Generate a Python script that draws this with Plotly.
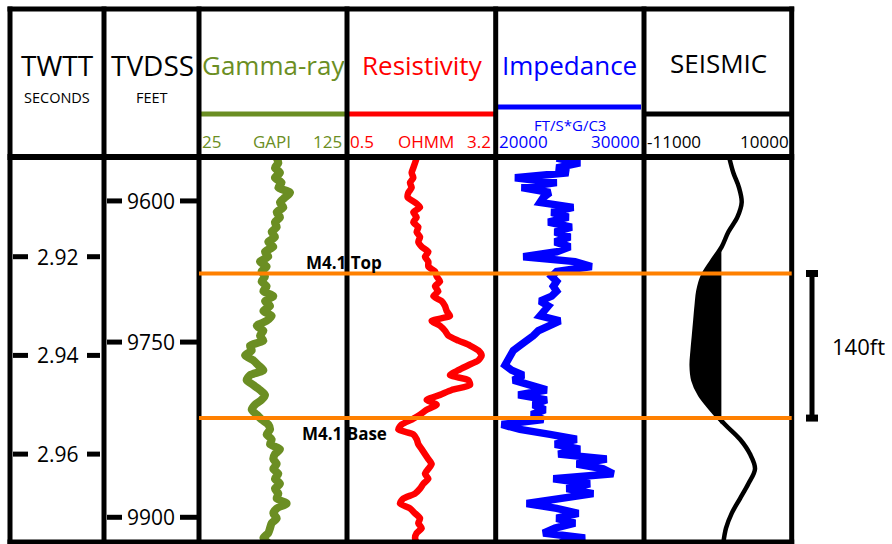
import numpy as np
import plotly.graph_objects as go

W, H = 892, 544

# ---------------- data ----------------
# log samples along two-way time (s), 1 ms sampling
twtt = np.round(np.arange(2.900, 2.9785, 0.001), 3)

gamma_ray = [77.5, 78.6, 76.3, 79.7, 76.3, 80.8, 78.6, 86.5, 83.1, 79.7,
             82.0, 77.5, 79.7, 76.3, 77.5, 74.1, 76.3, 71.8, 75.2, 69.6,
             71.8, 66.2, 70.7, 67.3, 69.6, 67.3, 70.7, 68.5, 75.2, 69.6,
             73.0, 68.5, 74.1, 70.7, 64.0, 68.5, 66.2, 68.5, 59.5, 60.6,
             56.1, 61.7, 65.1, 68.5, 59.5, 57.2, 61.7, 66.2, 69.6, 67.3,
             62.8, 60.6, 64.0, 67.3, 71.8, 73.0, 70.7, 74.1, 73.0, 79.7,
             76.3, 75.2, 77.5, 75.2, 78.6, 76.3, 79.7, 76.3, 78.6, 77.5,
             84.2, 77.5, 75.2, 77.5, 74.1, 73.0, 71.8, 68.5, 71.8]

resistivity = [1.765, 1.735, 1.704, 1.674, 1.704, 1.644, 1.674, 1.614, 1.602, 1.735,
               1.826, 1.704, 1.765, 1.704, 1.795, 1.765, 1.826, 1.795, 1.856, 1.977,
               1.916, 1.977, 1.977, 2.098, 2.128, 2.189, 2.098, 2.158, 2.068, 2.219,
               2.279, 2.310, 2.370, 2.037, 2.189, 2.279, 2.340, 2.522, 2.734, 2.885,
               2.945, 2.885, 2.703, 2.522, 2.370, 2.703, 2.734, 2.400, 2.189, 1.947,
               2.128, 1.947, 1.826, 1.674, 1.493, 1.432, 1.704, 1.765, 1.795, 1.856,
               1.916, 1.977, 2.037, 1.977, 1.916, 1.977, 1.886, 1.826, 1.735, 1.523,
               1.462, 1.644, 1.735, 1.826, 1.795, 1.856, 1.765, 1.735, 1.765]

impedance = [24110, 25683, 24110, 24896, 21301, 24110, 21751, 23661, 23211, 22987,
             25234, 23773, 24896, 23548, 25121, 23998, 25009, 23998, 25009, 24110,
             21863, 25346, 26469, 24110, 23773, 24110, 23885, 24110, 23773, 22987,
             23548, 23211, 22987, 24335, 23548, 22874, 22537, 21975, 21638, 21189,
             20964, 20852, 20627, 21077, 21863, 21189, 22537, 23436, 21526, 23436,
             22537, 23323, 22425, 23211, 20402, 21638, 23661, 25458, 23998, 25683,
             24222, 27481, 25458, 27256, 27930, 23885, 26357, 24784, 26582, 24110,
             22088, 24110, 25571, 24110, 25346, 23998, 23211, 26020, 24335]

seis_twtt = [2.900, 2.903, 2.906, 2.909, 2.912, 2.915, 2.918, 2.921, 2.924,
             2.927, 2.930, 2.933, 2.936, 2.939, 2.942, 2.945, 2.948, 2.951,
             2.954, 2.957, 2.960, 2.963, 2.966, 2.969, 2.972, 2.975, 2.978]
seismic = [1134, 1703, 2509, 2888, 2272, 992, 43, -1378, -2658, -3274,
           -3511, -3700, -3890, -4080, -4222, -3985, -3037, -1378, 518, 2651,
           4073, 4784, 3836, 2651, 1466, 660, 281]

# axis ticks
twtt_ticks = [2.92, 2.94, 2.96]
twtt_labels = ["2.92", "2.94", "2.96"]
tvdss_ticks_twtt = [2.9087, 2.9373, 2.9728]
tvdss_labels = ["9600", "9750", "9900"]

# horizons
horizon_names = ["M4.1 Top", "M4.1 Base"]
horizon_twtt = [2.9234, 2.9527]
thickness_label = "140ft"

# track ranges
gr_range = [25, 125]
res_range = [0.5, 3.2]
imp_range = [20000, 30000]
seis_range = [-11000, 10000]

GREEN = "#6b8e23"
RED = "#ff0000"
BLUE = "#0000ff"
ORANGE = "#ff8000"
FONT = "Open Sans"

def px(x):
    return x / W

def py(y):
    return 1 - y / H

# column boundaries (pixels)
XL, XT, XD, XG, XR, XI, XS = 10, 104, 199, 347, 495.7, 644, 791.7
Y_TOP, Y_HDR, Y_BOT = 9, 157, 542

fig = go.Figure()

fig.add_trace(go.Scatter(x=gamma_ray, y=twtt, mode="lines", xaxis="x", yaxis="y",
                         line=dict(color=GREEN, width=8, shape="spline", smoothing=0.7)))
fig.add_trace(go.Scatter(x=resistivity, y=twtt, mode="lines", xaxis="x2", yaxis="y",
                         line=dict(color=RED, width=6.5, shape="spline", smoothing=0.6)))
fig.add_trace(go.Scatter(x=impedance, y=twtt, mode="lines", xaxis="x3", yaxis="y",
                         line=dict(color=BLUE, width=7.5)))
seis_neg = np.minimum(np.array(seismic, dtype=float), 0)
fig.add_trace(go.Scatter(x=seis_neg, y=seis_twtt, mode="lines", xaxis="x4", yaxis="y",
                         fill="tozerox", fillcolor="black", line=dict(color="black", width=0)))
fig.add_trace(go.Scatter(x=seismic, y=seis_twtt, mode="lines", xaxis="x4", yaxis="y",
                         line=dict(color="black", width=4.5, shape="spline")))

ydom = [1 - 543 / H, 1 - 157 / H]
yr = [2.97801, 2.89980]

def xax(d0, d1, r):
    return dict(domain=[px(d0), px(d1)], range=r, visible=False, anchor="y",
                fixedrange=True)

shapes = []
def pline(x0, y0, x1, y1, color="black", width=5):
    shapes.append(dict(type="line", xref="paper", yref="paper",
                       x0=px(x0), y0=py(y0), x1=px(x1), y1=py(y1),
                       line=dict(color=color, width=width)))

# colored header scale lines
pline(XD, 114, XG, 114, GREEN, 5)
pline(XG, 114, XR, 114, RED, 5)
pline(XR, 107, XI - 3, 107, BLUE, 5)

# frame
for x in [XL, XT, XD, XG, XR, XI, XS]:
    pline(x, Y_TOP - 2.5, x, 544, "black", 5)
pline(XL - 2.5, Y_TOP, XS + 2.5, Y_TOP, "black", 5)
pline(XL - 2.5, Y_HDR, XS + 2.5, Y_HDR, "black", 6)
pline(XL - 2.5, Y_BOT, XS + 2.5, Y_BOT, "black", 5)
pline(XI, 114, XS, 114, "black", 5)

# tick stubs
for t in twtt_ticks:
    for a, b in [(13, 28), (87, 100)]:
        shapes.append(dict(type="line", xref="paper", yref="y", x0=px(a), x1=px(b),
                           y0=t, y1=t, line=dict(color="black", width=5)))
for t in tvdss_ticks_twtt:
    for a, b in [(107, 122), (180, 197)]:
        shapes.append(dict(type="line", xref="paper", yref="y", x0=px(a), x1=px(b),
                           y0=t, y1=t, line=dict(color="black", width=5)))

# horizons
for t in horizon_twtt:
    shapes.append(dict(type="line", xref="paper", yref="y", x0=px(XD), x1=px(XS),
                       y0=t, y1=t, line=dict(color=ORANGE, width=4)))

# thickness bracket
shapes.append(dict(type="line", xref="paper", yref="y", x0=px(812), x1=px(812),
                   y0=horizon_twtt[0], y1=horizon_twtt[1], line=dict(color="black", width=5)))
for t in horizon_twtt:
    shapes.append(dict(type="line", xref="paper", yref="y", x0=px(806), x1=px(818),
                       y0=t, y1=t, line=dict(color="black", width=7)))

ann = []
def txt(s, x, y, size, color="black", xanchor="center", bold=False):
    ann.append(dict(text=("<b>%s</b>" % s) if bold else s, x=px(x), y=py(y),
                    xref="paper", yref="paper", xanchor=xanchor, yanchor="middle",
                    showarrow=False, font=dict(family=FONT, size=size, color=color)))

txt("TWTT", 57, 65, 28)
txt("SECONDS", 57, 97, 14.5)
txt("TVDSS", 152, 65, 28)
txt("FEET", 152, 97, 14.5)
txt("Gamma-ray", 273, 65, 26, GREEN)
txt("Resistivity", 422, 65, 26, RED)
txt("Impedance", 569, 65, 26, BLUE)
txt("SEISMIC", 718, 63, 26)

txt(str(gr_range[0]), 200, 142, 17, GREEN, "left")
txt("GAPI", 272, 142, 17, GREEN)
txt(str(gr_range[1]), 344, 142, 17, GREEN, "right")
txt(str(res_range[0]), 348, 142, 17, RED, "left")
txt("OHMM", 426, 142, 17, RED)
txt(str(res_range[1]), 493, 142, 17, RED, "right")
txt("FT/S*G/C3", 570, 125, 15, BLUE)
txt(str(imp_range[0]), 497, 142, 17, BLUE, "left")
txt(str(imp_range[1]), 642, 142, 17, BLUE, "right")
txt(str(seis_range[0]), 645, 142, 17, "black", "left")
txt(str(seis_range[1]), 791, 142, 17, "black", "right")

for t, s in zip(twtt_ticks, twtt_labels):
    ann.append(dict(text=s, x=px(57.5), y=t, xref="paper", yref="y", showarrow=False,
                    xanchor="center", yanchor="middle",
                    font=dict(family=FONT, size=21, color="black")))
for t, s in zip(tvdss_ticks_twtt, tvdss_labels):
    ann.append(dict(text=s, x=px(151), y=t, xref="paper", yref="y", showarrow=False,
                    xanchor="center", yanchor="middle",
                    font=dict(family=FONT, size=21, color="black")))

for t, s, dy in zip(horizon_twtt, horizon_names, [-11, 15]):
    ann.append(dict(text="<b>%s</b>" % s, x=px(344), y=t, xref="paper", yref="y",
                    yshift=-dy, showarrow=False, xanchor="center", yanchor="middle",
                    font=dict(family=FONT, size=17, color="black")))

ann.append(dict(text=thickness_label, x=px(858), y=(horizon_twtt[0] + horizon_twtt[1]) / 2,
                xref="paper", yref="y", showarrow=False, xanchor="center", yanchor="middle",
                font=dict(family=FONT, size=22, color="black")))

fig.update_layout(
    width=W, height=H, margin=dict(l=0, r=0, t=0, b=0),
    paper_bgcolor="white", plot_bgcolor="white", showlegend=False,
    xaxis=xax(XD, XG, gr_range),
    xaxis2=xax(XG, XR, res_range),
    xaxis3=xax(XR, XI, imp_range),
    xaxis4=xax(XI, XS, seis_range),
    yaxis=dict(domain=ydom, range=yr, visible=False, fixedrange=True),
    shapes=shapes, annotations=ann,
)

fig.write_html("out.html")
